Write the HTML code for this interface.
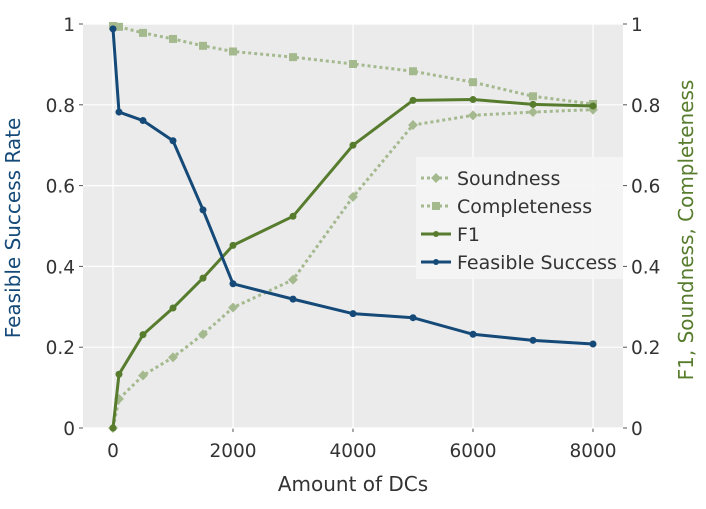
<!DOCTYPE html>
<html><head><meta charset="utf-8"><style>
body{margin:0;background:#fff;width:706px;height:504px;overflow:hidden}
text{font-family:"DejaVu Sans","Liberation Sans",sans-serif}
</style></head><body>
<svg id="chart" width="706" height="504" xmlns="http://www.w3.org/2000/svg"></svg>
<script>
const xs = [0,100,500,1000,1500,2000,3000,4000,5000,6000,7000,8000];
const feasible = [0.988,0.782,0.761,0.711,0.540,0.357,0.319,0.283,0.273,0.232,0.217,0.208];
const f1 = [0,0.133,0.231,0.297,0.371,0.452,0.524,0.700,0.811,0.813,0.801,0.797];
const soundness = [0,0.072,0.130,0.175,0.232,0.298,0.367,0.572,0.750,0.774,0.782,0.788];
const completeness = [0.995,0.993,0.978,0.963,0.946,0.932,0.918,0.901,0.883,0.856,0.821,0.802];
const xTicks = [0,2000,4000,6000,8000];
const yTicks = [0,0.2,0.4,0.6,0.8,1];
const yTickLabels = ["0","0.2","0.4","0.6","0.8","1"];

const svg = document.getElementById('chart');
const NS = 'http://www.w3.org/2000/svg';
const L=83,R=623,T=24,B=428;
const FS=18.5;
const sx = v => 113 + v*(120/2000);
const sy = v => B - v*(B-T);
function mk(tag, attrs, parent){const e=document.createElementNS(NS,tag);for(const k in attrs)e.setAttribute(k,attrs[k]);(parent||svg).appendChild(e);return e;}

const bg = mk('rect',{x:L,y:T,width:R-L,height:B-T,fill:'#ebebeb'});


xTicks.forEach((t,i)=>{
  const g = mk('line',{x1:sx(t),x2:sx(t),y1:T,y2:B,stroke:'#fff','stroke-width':1.2});
  
  
  mk('line',{x1:sx(t),x2:sx(t),y1:B,y2:B+4,stroke:'#555'});
  const tx = mk('text',{x:sx(t),y:B+29,'text-anchor':'middle','font-size':FS,fill:'#333'});
  tx.textContent = t;
  
  
});
yTicks.forEach((t,i)=>{
  const g = mk('line',{x1:L,x2:R,y1:sy(t),y2:sy(t),stroke:'#fff','stroke-width':1.2});
  
  
  mk('line',{x1:L-4,x2:L,y1:sy(t),y2:sy(t),stroke:'#555'});
  mk('line',{x1:R,x2:R+4,y1:sy(t),y2:sy(t),stroke:'#555'});
  const a = mk('text',{x:L-8,y:sy(t)+7,'text-anchor':'end','font-size':FS,fill:'#333'});
  a.textContent = yTickLabels[i];
  
  
  const b = mk('text',{x:R+8,y:sy(t)+7,'text-anchor':'start','font-size':FS,fill:'#333'});
  b.textContent = yTickLabels[i];
  
  
});

function series(vals,color,dash,marker,name){
  const g = mk('g',{});
  
  
  const pts = vals.map((v,i)=>sx(xs[i])+','+sy(v)).join(' ');
  const attrs = {points:pts,fill:'none',stroke:color,'stroke-width':3};
  if(dash) attrs['stroke-dasharray']=dash;
  mk('polyline',attrs,g);
  vals.forEach((v,i)=>{
    let m;
    if(marker==='sq') m = mk('rect',{x:sx(xs[i])-4,y:sy(v)-4,width:8,height:8,fill:color},g);
    else if(marker==='dia') m = mk('rect',{x:sx(xs[i])-3.5,y:sy(v)-3.5,width:7,height:7,fill:color,transform:`rotate(45 ${sx(xs[i])} ${sy(v)})`},g);
    else m = mk('circle',{cx:sx(xs[i]),cy:sy(v),r:3.5,fill:color},g);
    
    
  });
}
const LIGHT='#a5b98f', GREEN='#587c2e', BLUE='#154a78';
series(completeness,LIGHT,'3 3','sq','completeness-series');
series(soundness,LIGHT,'3 3','dia','soundness-series');
series(f1,GREEN,null,'c','f1-series');
series(feasible,BLUE,null,'c','feasible-success-series');

// legend
const lg = mk('g',{});


mk('rect',{x:416,y:157,width:207,height:122,fill:'#f5f5f5',opacity:0.9},lg);
const entries=[['Soundness',LIGHT,'3 3','dia'],['Completeness',LIGHT,'3 3','sq'],['F1',GREEN,null,'c'],['Feasible Success',BLUE,null,'c']];
entries.forEach((e,i)=>{
  const y = 178+i*28;
  const eg = mk('g',{},lg);
  
  
  const la={x1:421,x2:451,y1:y,y2:y,stroke:e[1],'stroke-width':3};
  if(e[2]) la['stroke-dasharray']=e[2];
  mk('line',la,eg);
  if(e[3]==='sq') mk('rect',{x:432,y:y-4,width:8,height:8,fill:e[1]},eg);
  else if(e[3]==='dia') mk('rect',{x:432.5,y:y-3.5,width:7,height:7,fill:e[1],transform:`rotate(45 436 ${y})`},eg);
  else mk('circle',{cx:436,cy:y,r:3,fill:e[1]},eg);
  const t = mk('text',{x:457,y:y+7,'font-size':19,fill:'#333'},eg);
  t.textContent=e[0];
});

const xt = mk('text',{x:353,y:491,'text-anchor':'middle','font-size':20,fill:'#333'});
xt.textContent='Amount of DCs';


const yl = mk('text',{x:20,y:228,'text-anchor':'middle','font-size':20,fill:BLUE,transform:'rotate(-90 20 228)'});
yl.textContent='Feasible Success Rate';


const yr = mk('text',{x:693,y:230,'text-anchor':'middle','font-size':20,fill:GREEN,transform:'rotate(-90 693 230)'});
yr.textContent='F1, Soundness, Completeness';


</script>
</body></html>
